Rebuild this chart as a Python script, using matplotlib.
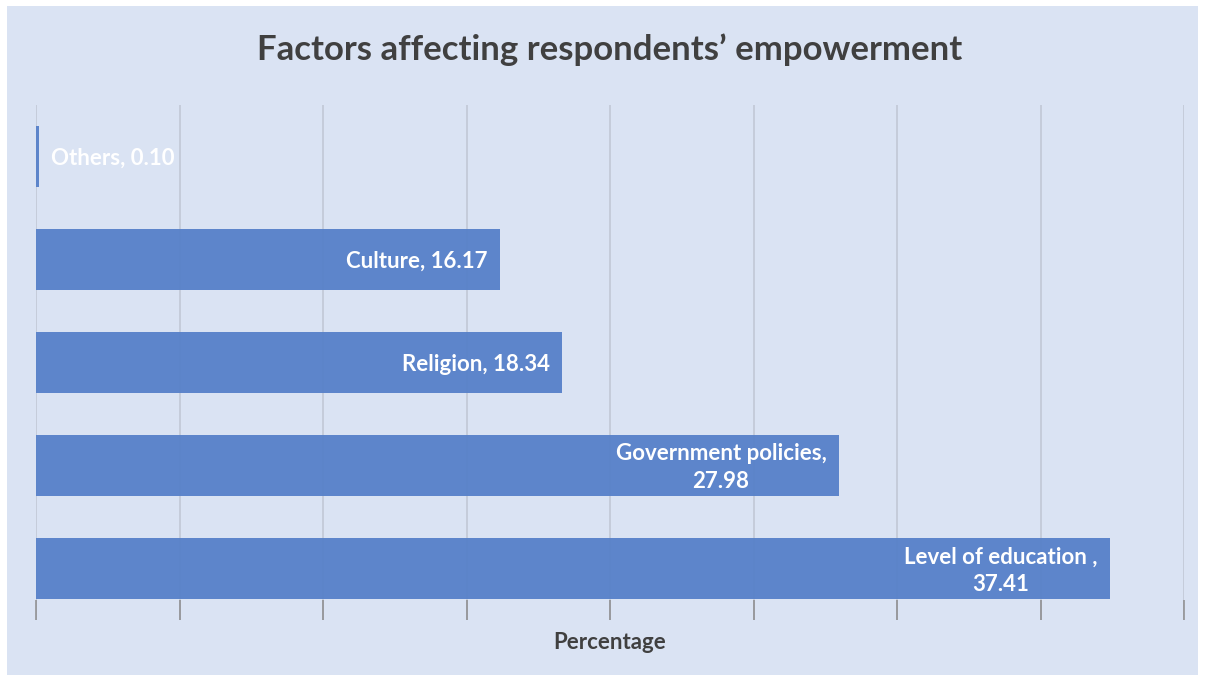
import matplotlib
matplotlib.use("Agg")
import matplotlib.pyplot as plt
from matplotlib.patches import Rectangle

# Survey results: share of respondents naming each factor (%)
categories = ["Level of education", "Government policies", "Religion", "Culture", "Others"]
values = [37.41, 27.98, 18.34, 16.17, 0.10]
bar_labels = ["Level of education ,\n37.41", "Government policies,\n27.98",
              "Religion, 18.34", "Culture, 16.17", "Others, 0.10"]
x_ticks = [0, 5, 10, 15, 20, 25, 30, 35, 40]

W, H, DPI = 1205, 681, 100
fig = plt.figure(figsize=(W / DPI, H / DPI), dpi=DPI, facecolor="white")
plt.rcParams["font.family"] = ["Lato", "DejaVu Sans"]

# chart area panel with a thin white margin
fig.patches.append(Rectangle((7 / W, 6 / H), (1198 - 7) / W, (675 - 6) / H,
                             transform=fig.transFigure, facecolor="#DAE3F3",
                             edgecolor="none", zorder=-10))

ax = fig.add_axes([36 / W, 1 - 620 / H, (1184 - 36) / W, (620 - 105) / H])
ax.set_facecolor("none")
ax.set_zorder(1)

ypos = list(range(len(categories)))
ax.set_xlim(0, 40)
ax.set_ylim(-0.5, len(categories) - 0.5)
ax.set_xticks(x_ticks)
ax.set_xticklabels([])
ax.set_yticks([])
ax.grid(axis="x", color="#BFC6D3", linewidth=1.1, zorder=1)
ax.tick_params(axis="x", direction="in", length=14.5, width=1.1, color="#8C8C8C")
ax.set_axisbelow(True)
for s in ax.spines.values():
    s.set_visible(False)

ax.barh(ypos, values, height=0.6, color="#5680C9", alpha=0.95, zorder=2)

for y, v, lab in zip(ypos, values, bar_labels):
    if v < 2:
        ax.annotate(lab, (v, y), xytext=(9, -1.5), textcoords="offset points",
                    ha="left", va="center", color="white", fontsize=16,
                    fontweight="bold", zorder=3)
    else:
        ax.annotate(lab, (v, y), xytext=(-9, -1.5), textcoords="offset points",
                    ha="right", va="center", multialignment="center",
                    color="white", fontsize=16, fontweight="bold",
                    linespacing=1.38, zorder=3)

ax.set_xlabel("Percentage", fontsize=16, fontweight="bold", color="#404040", labelpad=5)

fig.text((36 + 1184) / 2 / W, 1 - 50 / H, "Factors affecting respondents\u2019 empowerment",
         ha="center", va="center", fontsize=25, fontweight="bold", color="#404040")

fig.savefig("out.png", dpi=DPI, facecolor="white")
